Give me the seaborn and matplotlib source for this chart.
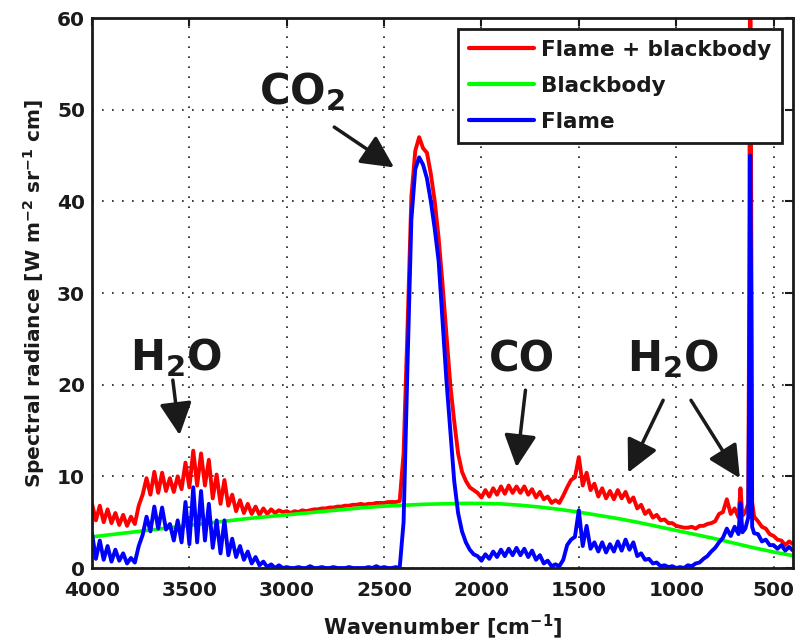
import numpy as np
import pandas as pd
import matplotlib
matplotlib.use("Agg")
import matplotlib.pyplot as plt
import seaborn as sns

# Wavenumber grid shared by the two measured spectra [cm^-1]
wavenumber = [
    4000, 3980, 3960, 3940, 3920, 3900, 3880, 3860, 3840, 3820,
    3800, 3780, 3760, 3740, 3720, 3700, 3680, 3660, 3640, 3620,
    3600, 3580, 3560, 3540, 3520, 3500, 3480, 3460, 3440, 3420,
    3400, 3380, 3360, 3340, 3320, 3300, 3280, 3260, 3240, 3220,
    3200, 3180, 3160, 3140, 3120, 3100, 3080, 3060, 3040, 3020,
    3000, 2980, 2960, 2940, 2920, 2900, 2880, 2860, 2840, 2820,
    2800, 2780, 2760, 2740, 2720, 2700, 2680, 2660, 2640, 2620,
    2600, 2580, 2560, 2540, 2520, 2500, 2480, 2460, 2440, 2420,
    2400, 2380, 2360, 2340, 2320, 2300, 2280, 2260, 2240, 2220,
    2200, 2180, 2160, 2140, 2120, 2100, 2080, 2060, 2040, 2020,
    2000, 1980, 1960, 1940, 1920, 1900, 1880, 1860, 1840, 1820,
    1800, 1780, 1760, 1740, 1720, 1700, 1680, 1660, 1640, 1620,
    1600, 1580, 1560, 1540, 1520, 1500, 1480, 1460, 1440, 1420,
    1400, 1380, 1360, 1340, 1320, 1300, 1280, 1260, 1240, 1220,
    1200, 1180, 1160, 1140, 1120, 1100, 1080, 1060, 1040, 1020,
    1000, 980, 960, 940, 920, 900, 880, 860, 840, 820,
    800, 780, 760, 740, 720, 700, 680, 670, 660, 645,
    630, 625, 620, 615, 610, 600, 580, 560, 540, 520,
    500, 480, 460, 440, 420, 400,
]

# Flame + blackbody spectral radiance [W m^-2 sr^-1 cm]
flame_plus_bb = [
    7.0, 5.2, 6.8, 5.0, 6.4, 4.9, 6.0, 4.7, 5.8, 4.6,
    5.6, 4.8, 6.8, 8.0, 9.8, 8.0, 10.5, 8.2, 10.4, 8.4,
    9.8, 8.3, 10.0, 8.6, 11.5, 8.8, 12.8, 9.0, 12.5, 9.0,
    11.8, 7.6, 10.2, 7.0, 9.6, 6.8, 8.0, 6.2, 7.4, 6.0,
    7.0, 5.9, 6.7, 5.8, 6.5, 5.9, 6.4, 6.0, 6.3, 6.1,
    6.2, 6.0, 6.2, 6.1, 6.3, 6.2, 6.3, 6.4, 6.4, 6.5,
    6.5, 6.6, 6.6, 6.7, 6.7, 6.8, 6.8, 6.9, 6.9, 7.0,
    6.9, 7.0, 7.0, 7.1, 7.1, 7.1, 7.2, 7.2, 7.2, 7.3,
    12.5, 26.0, 40.5, 45.5, 47.0, 45.8, 45.3, 43.0, 40.0, 36.0,
    31.0, 25.5, 20.0, 16.0, 12.5, 10.5, 9.5, 8.8, 8.5, 8.2,
    7.7, 8.5, 7.8, 8.7, 8.0, 8.9, 8.1, 9.0, 8.2, 8.9,
    8.2, 8.9, 8.0, 8.6, 7.7, 8.3, 7.5, 7.8, 7.1, 7.4,
    7.1, 7.9, 8.8, 9.6, 9.9, 12.1, 9.0, 10.4, 8.5, 9.2,
    7.8, 8.7, 7.6, 8.4, 7.5, 8.5, 7.6, 8.3, 7.2, 7.7,
    6.5, 6.9, 5.9, 6.3, 5.5, 5.8, 5.2, 5.3, 4.9, 4.9,
    4.6, 4.5, 4.4, 4.4, 4.5, 4.3, 4.6, 4.6, 4.8, 4.9,
    5.1, 5.9, 6.1, 7.5, 5.9, 6.5, 5.5, 8.7, 5.7, 6.1,
    7.0, 30.0, 75.0, 40.0, 7.2, 5.6, 5.1, 4.5, 4.3, 3.7,
    3.5, 3.1, 3.0, 2.5, 2.9, 2.6,
]

# Flame only
flame = [
    3.8, 1.0, 3.0, 0.9, 2.4, 0.7, 2.0, 0.8, 1.6, 0.5,
    1.1, 0.6, 2.4, 3.6, 5.6, 4.0, 6.7, 4.3, 6.6, 4.2,
    4.8, 3.0, 5.2, 2.8, 7.2, 2.6, 8.8, 2.8, 8.4, 3.0,
    7.0, 2.2, 5.2, 1.6, 5.2, 1.4, 3.2, 1.2, 2.4, 0.9,
    1.8, 0.5, 1.2, 0.3, 0.7, 0.1, 0.4, 0.0, 0.3, 0.0,
    0.1, 0.0, 0.0, 0.1, 0.0, 0.0, 0.2, 0.0, 0.0, 0.1,
    0.0, 0.0, 0.1, 0.0, 0.0, 0.0, 0.1, 0.0, 0.0, 0.0,
    0.0, 0.1, 0.0, 0.2, 0.0, 0.1, 0.0, 0.0, 0.1, 0.0,
    5.0, 22.0, 38.0, 43.5, 44.8, 44.0, 42.5, 40.0, 37.0, 33.5,
    27.0, 20.5, 15.0, 9.5, 6.0, 4.0, 2.8, 2.0, 1.5, 1.3,
    0.8, 1.5, 1.0, 1.8, 1.2, 2.0, 1.3, 2.1, 1.4, 2.2,
    1.4, 2.1, 1.2, 1.9, 0.9, 1.4, 0.5, 0.8, 0.2, 0.4,
    0.2, 0.9, 2.5, 3.1, 3.4, 6.3, 2.4, 4.6, 2.1, 2.8,
    1.8, 2.8, 1.7, 2.6, 1.8, 2.9, 1.9, 3.1, 2.0, 2.8,
    1.3, 1.6, 0.9, 1.0, 0.5, 0.6, 0.2, 0.3, 0.1, 0.2,
    0.0, 0.1, 0.0, 0.3, 0.2, 0.5, 0.6, 1.0, 1.3, 1.8,
    2.2, 2.8, 3.3, 4.3, 3.5, 4.5, 3.7, 7.1, 3.9, 4.3,
    5.5, 20.0, 45.0, 30.0, 4.5, 3.8, 3.7, 2.9, 3.1, 2.5,
    2.5, 2.1, 2.5, 1.9, 2.3, 1.9,
]

# Blackbody reference curve
bb_wavenumber = [
    4000, 3900, 3800, 3700, 3600, 3500, 3400, 3300, 3200, 3100,
    3000, 2900, 2800, 2700, 2600, 2500, 2400, 2300, 2200, 2100,
    2000, 1900, 1800, 1700, 1600, 1500, 1400, 1300, 1200, 1100,
    1000, 900, 800, 700, 600, 500, 400,
]
blackbody = [
    3.4, 3.65, 3.9, 4.15, 4.4, 4.65, 4.9, 5.15, 5.4, 5.6,
    5.8, 6.0, 6.2, 6.4, 6.6, 6.75, 6.85, 6.95, 7.0, 7.05,
    7.05, 7.0, 6.85, 6.65, 6.4, 6.1, 5.75, 5.4, 5.0, 4.55,
    4.1, 3.65, 3.2, 2.7, 2.2, 1.75, 1.35,
]

x_ticks = [4000, 3500, 3000, 2500, 2000, 1500, 1000, 500]
y_ticks = [0, 10, 20, 30, 40, 50, 60]

spectra = pd.DataFrame({"wavenumber": wavenumber,
                        "flame_bb": flame_plus_bb,
                        "flame": flame})
bb = pd.DataFrame({"wavenumber": bb_wavenumber, "blackbody": blackbody})

sns.set_theme(style="white")
plt.rcParams["font.family"] = ["DejaVu Sans"]
plt.rcParams["font.weight"] = "bold"
plt.rcParams["text.color"] = "black"
plt.rcParams["axes.labelcolor"] = "black"
plt.rcParams["mathtext.fontset"] = "dejavusans"
plt.rcParams["mathtext.default"] = "bf"

fig = plt.figure(figsize=(8.0, 6.43), dpi=100)
ax = fig.add_axes([0.115, 0.1166, 0.8763, 0.8554])

lw = 2.8
sns.lineplot(data=spectra, x="wavenumber", y="flame_bb", color="#ff0000",
             lw=lw, estimator=None, sort=False, ax=ax,
             label="Flame + blackbody")
sns.lineplot(data=bb, x="wavenumber", y="blackbody", color="#00ff00",
             lw=2.6, estimator=None, sort=False, ax=ax, label="Blackbody")
sns.lineplot(data=spectra, x="wavenumber", y="flame", color="#0000ff",
             lw=lw, estimator=None, sort=False, ax=ax, label="Flame")

ax.set_xlim(4000, 400)
ax.set_ylim(0, 60)
ax.set_xticks(x_ticks)
ax.set_yticks(y_ticks)
ax.grid(True, color="k", linestyle=(0, (1, 5)), lw=1.2)
ax.tick_params(direction="in", length=6, width=1.5, top=True, right=True,
               labelsize=14.5, colors="k")
ax.tick_params(axis="x", pad=9)
ax.tick_params(axis="y", pad=5)
for lab in ax.get_xticklabels() + ax.get_yticklabels():
    lab.set_fontweight("bold")
for s in ax.spines.values():
    s.set_color("k")
    s.set_linewidth(2)

ax.set_xlabel(r"Wavenumber [cm$^{-1}$]", fontsize=15, fontweight="bold",
              color="k", labelpad=9)
ax.set_ylabel(r"Spectral radiance [W m$^{-2}$ sr$^{-1}$ cm]", fontsize=14.5,
              fontweight="bold", color="k", labelpad=7)

leg = ax.legend(loc="upper right", fontsize=15.5, frameon=True, fancybox=False,
                framealpha=1, edgecolor="k", handlelength=3.0,
                handletextpad=0.35, labelspacing=0.75, borderaxespad=0.5,
                borderpad=0.5)
leg.get_frame().set_linewidth(2)
for t in leg.get_texts():
    t.set_fontweight("bold")
    t.set_color("k")
for h in leg.get_lines():
    h.set_linewidth(3)

# Band labels with arrows
arrow_kw = dict(arrowstyle="-|>,head_length=0.9,head_width=0.45", color="k",
                lw=2.5, mutation_scale=22, shrinkA=0, shrinkB=0)
txt_kw = dict(fontsize=30, fontweight="bold", ha="center", va="center", color="k")

ax.text(2920, 52.0, r"CO$_2$", **txt_kw)
ax.annotate("", xy=(2449, 43.7), xytext=(2756, 48.1), arrowprops=arrow_kw)

ax.text(3570, 23.0, r"H$_2$O", **txt_kw)
ax.annotate("", xy=(3550, 14.5), xytext=(3585, 20.5), arrowprops=arrow_kw)

ax.text(1794, 22.7, "CO", **txt_kw)
ax.annotate("", xy=(1820, 11.0), xytext=(1774, 19.4), arrowprops=arrow_kw)

ax.text(1016, 22.8, r"H$_2$O", **txt_kw)
ax.annotate("", xy=(1247, 10.4), xytext=(1067, 18.3), arrowprops=arrow_kw)
ax.annotate("", xy=(673, 9.8), xytext=(924, 18.3), arrowprops=arrow_kw)

fig.savefig("out.png", dpi=100)
